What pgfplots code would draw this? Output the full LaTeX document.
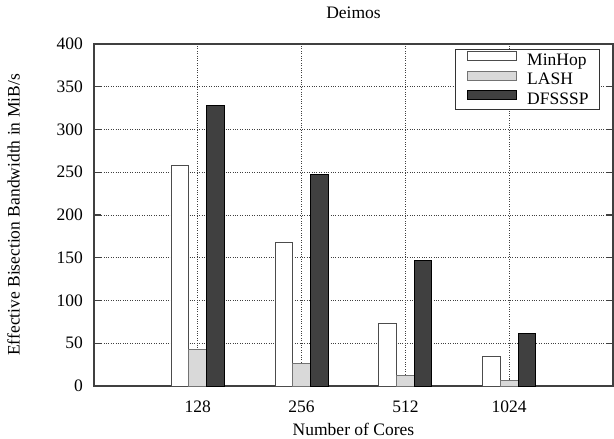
\documentclass[border=0pt]{standalone}
\usepackage{pgfplots}
\pgfplotsset{compat=1.18}
\usepackage{fontspec}
\setmainfont{Liberation Serif}
\definecolor{barlight}{gray}{0.85}
\definecolor{bardark}{gray}{0.25}
\begin{document}
\begin{tikzpicture}
\useasboundingbox (-94bp,-53bp) rectangle (520bp,386bp);
\begin{axis}[
  at={(0,0)}, anchor=south west,
  scale only axis,
  width=519bp, height=342bp,
  xmin=0, xmax=5, ymin=0, ymax=400,
  ybar=0pt, bar width=17.7bp,
  xtick={1,2,3,4}, xticklabels={128,256,512,1024},
  ytick={0,50,...,400},
  font=\fontsize{17.5bp}{20bp}\selectfont,
  /pgf/number format/assume math mode=true,
  axis line style={draw=black!75, line width=1.4bp},
  grid=major,
  grid style={dotted, draw=black!75, line width=0.7bp},
  tick style={draw=black!75, line width=1.4bp},
  tick align=inside,
  ytick pos=both,
  xtick pos=bottom,
  major tick length=7bp,
  xticklabel style={anchor=base, yshift=-26bp, inner sep=0pt},
  yticklabel style={anchor=east, xshift=-11bp, inner sep=0pt},
  title={Deimos},
  title style={at={(axis description cs:0.5,1.0585)}, anchor=base, inner sep=0pt},
  xlabel={Number of Cores},
  xlabel style={at={(axis description cs:0.5,-0.146)}, anchor=base, inner sep=0pt},
  ylabel={Effective Bisection Bandwidth in MiB/s},
  ylabel style={at={(axis description cs:-0.1435,0.5)}, anchor=base, rotate=0, inner sep=0pt},
  legend style={at={(axis description cs:0.975,0.985)}, anchor=north east,
    draw=black!80, line width=1bp, fill=white,
    font=\fontsize{17.5bp}{17bp}\selectfont,
    inner xsep=11bp, inner ysep=1.5bp, row sep=1.3bp, column sep=10.7bp,
    nodes={inner sep=0pt, text height=12.5bp, text depth=4bp}},
  legend cell align=left,
  legend image code/.code={\draw[#1, line width=1bp] (0bp,0.5bp) rectangle (49bp,9.5bp);},
]
\addplot[fill=white, draw=black!70, line width=1bp] coordinates {(1,258) (2,168) (3,73) (4,35)};
\addplot[fill=barlight, draw=black!55, line width=1bp] coordinates {(1,43) (2,26) (3,12) (4,6)};
\addplot[fill=bardark, draw=black, line width=1bp] coordinates {(1,328) (2,247) (3,147) (4,61)};
\legend{MinHop,LASH,DFSSSP}
\end{axis}
\end{tikzpicture}
\end{document}
